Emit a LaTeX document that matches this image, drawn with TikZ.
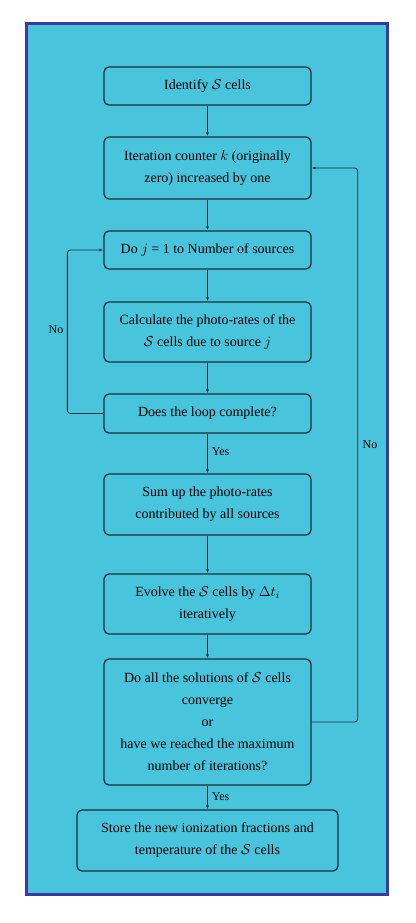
\documentclass[tikz,border=0pt]{standalone}
\usepackage{fontspec}
\setmainfont{Liberation Serif}
\usetikzlibrary{arrows.meta}
\definecolor{bgcyan}{HTML}{48C4DC}
\definecolor{framblue}{HTML}{3A3AA0}
\definecolor{boxline}{HTML}{1C3038}
\tikzset{
  stepbox/.style={draw=boxline, line width=1.3pt, rounded corners=5pt, minimum width=207pt,
    align=center, inner sep=3pt, font=\fontsize{14pt}{22pt}\selectfont, text=black},
  arr/.style={draw=boxline, line width=0.8pt, -{Latex[length=4pt,width=3pt]}},
  lbl/.style={font=\fontsize{12pt}{14pt}\selectfont, inner sep=0pt, text=black}
}
\begin{document}
\begin{tikzpicture}[x=1pt,y=-1pt]
\useasboundingbox (0,0) rectangle (415,923);
\filldraw[fill=bgcyan, draw=framblue, line width=3pt] (26.5,23.5) rectangle (387.5,894.5);
\node[stepbox, minimum height=38pt] (n1) at (207.5,86) {Identify $\mathcal{S}$ cells};
\node[stepbox, minimum height=62pt] (n2) at (207.5,168) {Iteration counter $k$ (originally\\zero) increased by one};
\node[stepbox, minimum height=38pt] (n3) at (207.5,250) {Do $j$ = 1 to Number of sources};
\node[stepbox, minimum height=60pt] (n4) at (207.5,332) {Calculate the photo-rates of the\\$\mathcal{S}$ cells due to source $j$};
\node[stepbox, minimum height=39pt] (n5) at (207.5,413.5) {Does the loop complete?};
\node[stepbox, minimum height=61pt] (n6) at (207.5,504.5) {Sum up the photo-rates\\contributed by all sources};
\node[stepbox, minimum height=60pt] (n7) at (207.5,604) {Evolve the $\mathcal{S}$ cells by $\Delta t_i$\\iteratively};
\node[stepbox, minimum height=126pt] (n8) at (207.5,722) {Do all the solutions of $\mathcal{S}$ cells\\converge\\or\\have we reached the maximum\\number of iterations?};
\node[stepbox, minimum height=61pt, minimum width=261pt] (n9) at (207.5,840.5) {Store the new ionization fractions and\\temperature of the $\mathcal{S}$ cells};
\draw[arr] (n1) -- (n2);
\draw[arr] (n2) -- (n3);
\draw[arr] (n3) -- (n4);
\draw[arr] (n4) -- (n5);
\draw[arr] (n5) -- node[lbl, right=4pt, pos=0.45] (y1) {Yes} (n6);
\draw[arr] (n6) -- (n7);
\draw[arr] (n7) -- (n8);
\draw[arr] (n8) -- node[lbl, right=4pt, pos=0.45] (y2) {Yes} (n9);
\draw[arr, rounded corners=3pt] (n5.west) -- ++(-36,0) |- (n3.west);
\draw[arr, rounded corners=3pt] (n8.east) -- ++(46,0) |- (n2.east);
\node[lbl] (no1) at (56,330) {No};
\node[lbl] (no2) at (370,445) {No};
\end{tikzpicture}
\end{document}
